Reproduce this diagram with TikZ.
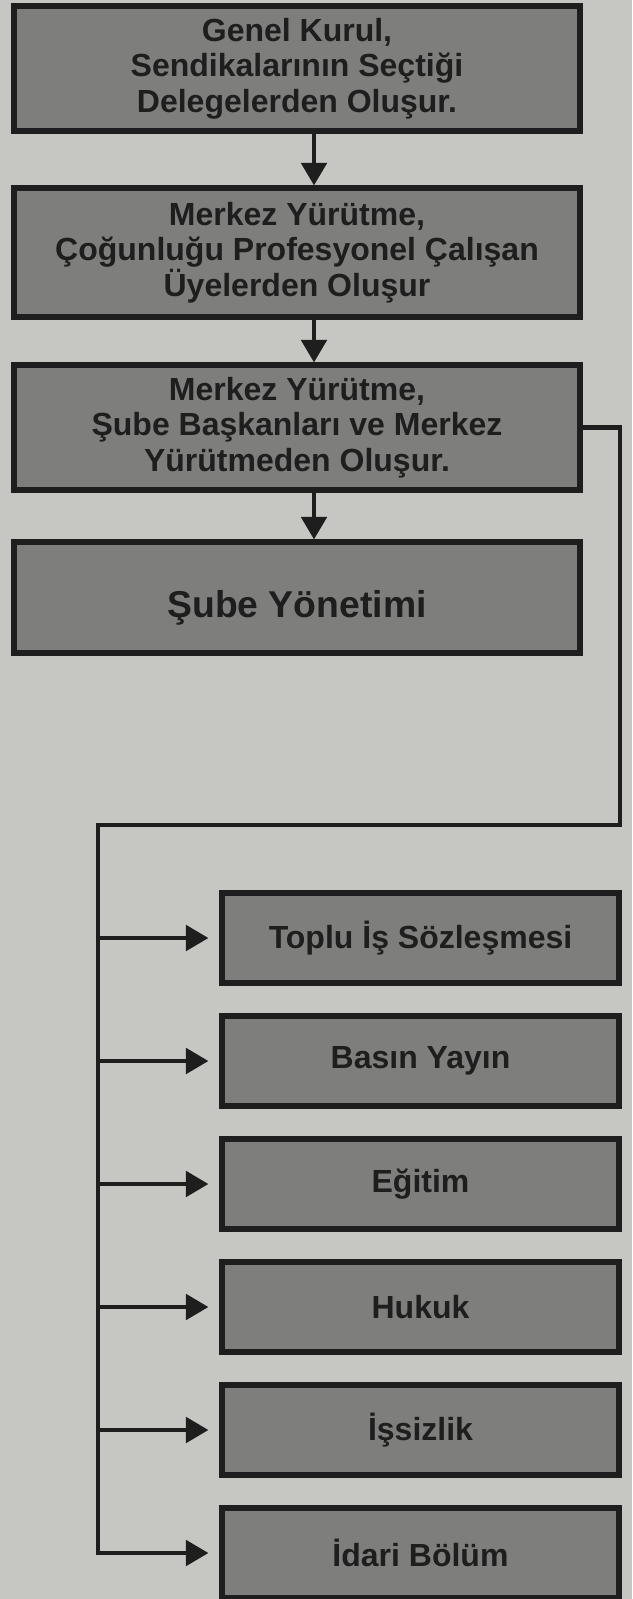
\documentclass[tikz,border=0pt]{standalone}
\usepackage{fontspec}
\setmainfont{Liberation Sans}
\usetikzlibrary{arrows.meta,calc,positioning}
\definecolor{paper}{RGB}{198,198,195}
\definecolor{boxgray}{RGB}{126,126,124}
\definecolor{ink}{RGB}{30,30,30}
\tikzset{
	unit/.style={draw=ink, line width=3.8pt, fill=boxgray, text=ink, align=center, inner sep=0pt, font=\bfseries\fontsize{24}{26.5}\selectfont},
	topbox/.style={unit, minimum width=424.5pt},
	deptbox/.style={unit, minimum width=297.75pt, minimum height=67.5pt},
	edge/.style={color=ink, line width=3.4pt, line cap=rect},
	diredge/.style={-{Triangle[width=19pt,length=17pt]}, color=ink, line width=3.4pt}
}
\begin{document}
\begin{tikzpicture}[x=0.75pt,y=-0.75pt]
		\useasboundingbox (0,0) rectangle (632,1599);
		\fill[paper] (0,0) rectangle (632,1599);
		%%%merkez
		\node[topbox, minimum height=93.75pt] (genel) at (297,68.5) {Genel Kurul,\\Sendikalarının Seçtiği\\Delegelerden Oluşur.};
		\node[topbox, minimum height=96.75pt] (yurutme) at (297,252.5) {Merkez Yürütme,\\Çoğunluğu Profesyonel Çalışan\\Üyelerden Oluşur};
		\node[topbox, minimum height=93.75pt] (sube) at (297,427.5) {Merkez Yürütme,\\Şube Başkanları ve Merkez\\Yürütmeden Oluşur.};
		\node[topbox, minimum height=83.25pt, label={[text=ink, font=\bfseries\fontsize{28}{30}\selectfont, yshift=-8pt]center:Şube Yönetimi}] (yonetim) at (297,597.5) {};
		\coordinate (ax) at (314,0);
		\draw[diredge] (genel.south -| ax) -- (yurutme.north -| ax);
		\draw[diredge] (yurutme.south -| ax) -- (sube.north -| ax);
		\draw[diredge] (sube.south -| ax) -- (yonetim.north -| ax);
		%%%birimler
		\node[deptbox] (toplu) at (420.5,938) {Toplu İş Sözleşmesi};
		\node[deptbox] (basin) at (420.5,1061) {Basın Yayın};
		\node[deptbox] (egitim) at (420.5,1184) {Eğitim};
		\node[deptbox] (hukuk) at (420.5,1307) {Hukuk};
		\node[deptbox] (issizlik) at (420.5,1430) {İşsizlik};
		\node[deptbox] (idari) at (420.5,1553) {İdari Bölüm};
		\coordinate (r1) at (620,825);
		\coordinate (l1) at (98,825);
		\coordinate (l2) at (98,1553);
		\draw[edge] (sube.east) -| (r1) -- (l1) -- (l2);
		\foreach \d in {toplu,basin,egitim,hukuk,issizlik,idari}
			\draw[diredge] (l1 |- \d.west) -- ([xshift=-8.25pt]\d.west);
	\end{tikzpicture}
\end{document}
